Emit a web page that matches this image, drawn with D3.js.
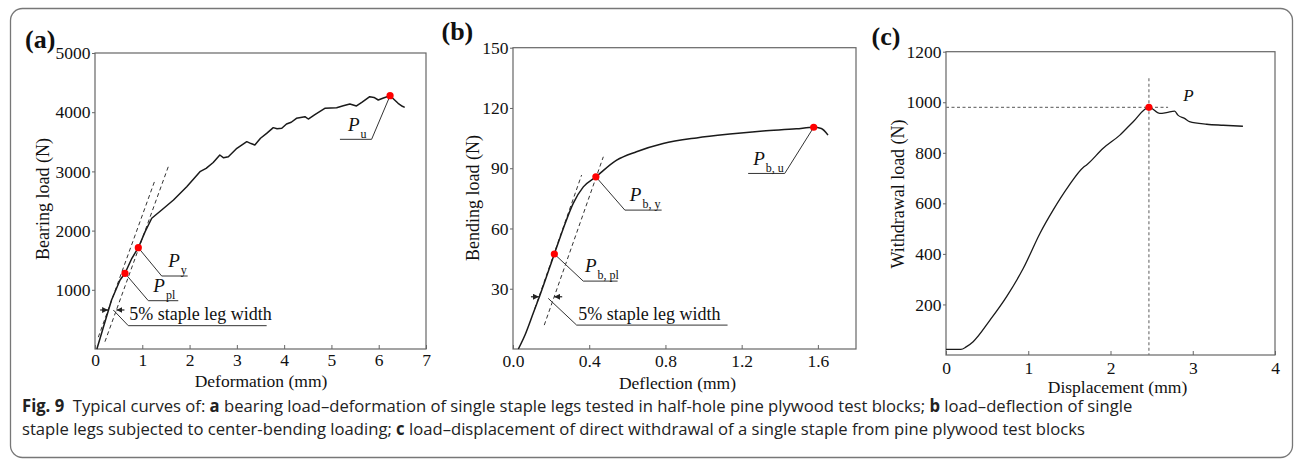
<!DOCTYPE html>
<html><head><meta charset="utf-8">
<script src="https://cdn.jsdelivr.net/npm/d3@7"></script>
<style>body{margin:0;background:#fff}svg{display:block}</style>
</head><body>
<svg id="fig" width="1295" height="461"></svg>
<script>
// ---------- data ----------
const aX = [0.04,0.18,0.35,0.53,0.634,0.78,0.916,1.06,1.2,1.41,1.66,1.94,2.22,2.35,2.5,2.64,2.72,2.82,3.0,3.21,3.3,3.38,3.5,3.63,3.77,3.85,3.95,4.05,4.15,4.26,4.44,4.51,4.65,4.86,5.11,5.25,5.39,5.53,5.65,5.81,5.9,5.99,6.1,6.24,6.41,6.5,6.55];
const aY = [0,377,828,1166,1279,1532,1711,1982,2208,2348,2517,2742,2995,3050,3150,3277,3230,3248,3390,3502,3470,3446,3560,3643,3739,3720,3728,3801,3830,3897,3924,3885,3960,4065,4076,4110,4139,4105,4170,4262,4250,4206,4240,4279,4150,4100,4082];
const aMarkX = [0.634,0.916,6.24];
const aMarkY = [1279,1711,4279];
const aTangent = [[0.07,200],[1.27,2855]];
const aOffset = [[0.21,123],[1.55,3080]];
const aXTicks = [0,1,2,3,4,5,6,7];
const aYTicks = [1000,2000,3000,4000,5000];

const bX = [0.028,0.063,0.106,0.142,0.217,0.264,0.316,0.369,0.435,0.544,0.648,0.788,0.963,1.138,1.312,1.487,1.578,1.618,1.653];
const bY = [0,7,17.8,26.9,47.3,60,72.5,80.7,85.7,94,98.2,102.3,105.1,107,108.5,109.6,110.4,109.8,106.5];
const bMarkX = [0.217,0.435,1.578];
const bMarkY = [47.3,85.7,110.4];
const bTangent = [[0.114,20],[0.36,86.6]];
const bOffset = [[0.164,11.9],[0.474,95.7]];
const bXTicks = [0,0.4,0.8,1.2,1.6];
const bYTicks = [30,60,90,120,150];

const cX = [0,0.18,0.25,0.33,0.535,0.737,0.94,1.142,1.304,1.486,1.668,1.709,1.911,2.114,2.276,2.467,2.6,2.68,2.78,2.82,2.9,2.96,3.17,3.37,3.61];
const cY = [22,22,33,52.6,138,231,343,481,574,666,742,752,818,870,923,980,956,959,965,949,936,923,913,909,905];
const cMarkX = [2.467];
const cMarkY = [980];
const cXTicks = [0,1,2,3,4];
const cYTicks = [200,400,600,800,1000,1200];

const captionLine1 = [["Fig. 9",true],["  Typical curves of: ",false],["a",true],[" bearing load–deformation of single staple legs tested in half-hole pine plywood test blocks; ",false],["b",true],[" load–deflection of single",false]];
const captionLine2 = [["staple legs subjected to center-bending loading; ",false],["c",true],[" load–displacement of direct withdrawal of a single staple from pine plywood test blocks",false]];

// ---------- drawing ----------
const SERIF = '"Liberation Serif","Times New Roman",serif';
const svg = d3.select("#fig");

const defs = svg.append("defs");
defs.append("marker").attr("id","ah").attr("viewBox","0 0 6 6").attr("refX",6).attr("refY",3)
  .attr("markerWidth",6).attr("markerHeight",6).attr("markerUnits","userSpaceOnUse").attr("orient","auto")
  .append("path").attr("d","M0,0L6,3L0,6z").attr("fill","#222");

svg.append("rect").attr("x",10.5).attr("y",8.5).attr("width",1282).attr("height",449).attr("rx",12)
  .attr("fill","none").attr("stroke","#777").attr("stroke-width",1.3);

function panel(cfg){
  const g = svg.append("g");
  const x = d3.scaleLinear().domain(cfg.xd).range([cfg.l,cfg.r]);
  const y = d3.scaleLinear().domain(cfg.yd).range([cfg.b,cfg.t]);
  g.append("rect").attr("x",cfg.l).attr("y",cfg.t).attr("width",cfg.r-cfg.l).attr("height",cfg.b-cfg.t)
    .attr("fill","none").attr("stroke","#666").attr("stroke-width",1.2);
  const xa = g.append("g").attr("transform",`translate(0,${cfg.b})`)
    .call(d3.axisBottom(x).tickValues(cfg.xt).tickSizeInner(-4).tickSizeOuter(0).tickPadding(cfg.xpad).tickFormat(cfg.xf));
  const ya = g.append("g").attr("transform",`translate(${cfg.l},0)`)
    .call(d3.axisLeft(y).tickValues(cfg.yt).tickSizeInner(3).tickSizeOuter(0).tickPadding(1.5).tickFormat(d3.format("d")));
  [xa,ya].forEach(a=>{
    a.select(".domain").remove();
    a.selectAll("line").attr("stroke","#666");
    a.selectAll("text").attr("font-family",SERIF).attr("font-size",17.5).attr("fill","#111");
  });
  g.append("text").attr("x",cfg.xlx).attr("y",cfg.xly).attr("text-anchor","middle")
    .attr("font-family",SERIF).attr("font-size",17.5).attr("fill","#111").text(cfg.xlabel);
  g.append("text").attr("transform",`translate(${cfg.ylx},${cfg.yly}) rotate(-90)`).attr("text-anchor","middle")
    .attr("font-family",SERIF).attr("font-size",18).attr("fill","#111").text(cfg.ylabel);
  g.append("text").attr("x",cfg.plx).attr("y",cfg.ply).attr("font-family",SERIF).attr("font-weight","bold")
    .attr("font-size",26).attr("fill","#111").text(cfg.tag);
  return {g,x,y};
}

function curve(p, xs, ys, w, c){
  const pts = xs.map((d,i)=>[d,ys[i]]);
  p.g.append("path").attr("d",d3.line().x(d=>p.x(d[0])).y(d=>p.y(d[1])).curve(c)(pts))
    .attr("fill","none").attr("stroke","#1a1a1a").attr("stroke-width",w).attr("stroke-linejoin","round");
}
function dashed(p, seg){
  p.g.append("line").attr("x1",p.x(seg[0][0])).attr("y1",p.y(seg[0][1]))
    .attr("x2",p.x(seg[1][0])).attr("y2",p.y(seg[1][1]))
    .attr("stroke","#333").attr("stroke-width",1).attr("stroke-dasharray","4,3");
}
function marks(p, xs, ys){
  xs.forEach((d,i)=>p.g.append("circle").attr("cx",p.x(d)).attr("cy",p.y(ys[i])).attr("r",3.6).attr("fill","#ff0000"));
}
function lineX(seg, yv){
  const [a,b]=seg; return a[0]+(yv-a[1])*(b[0]-a[0])/(b[1]-a[1]);
}
function leader(p, pts, sub, dir, lx, ly){
  p.g.append("polyline").attr("points",pts.map(d=>[p.x(d[0]),p.y(d[1])].join(",")).join(" "))
    .attr("fill","none").attr("stroke","#333").attr("stroke-width",1);
  const ex = dir>0 ? p.x(pts[1][0]) : p.x(pts[2][0]);
  const ey = p.y(pts[1][1]);
  const t = p.g.append("text").attr("x",ex+lx).attr("y",ey+ly).attr("font-family",SERIF).attr("fill","#111");
  t.append("tspan").attr("font-style","italic").attr("font-size",19).text("P");
  t.append("tspan").attr("font-size",12).attr("dx",1).attr("dy",7).text(sub);
}
function staple(p, tan, off, yv, lead, tx, ty){
  const xl = p.x(lineX(tan,yv)), xr = p.x(lineX(off,yv)), yy = p.y(yv);
  p.g.append("line").attr("x1",xl-8).attr("y1",yy).attr("x2",xl).attr("y2",yy).attr("stroke","#222").attr("stroke-width",1.2).attr("marker-end","url(#ah)");
  p.g.append("line").attr("x1",xr+8).attr("y1",yy).attr("x2",xr).attr("y2",yy).attr("stroke","#222").attr("stroke-width",1.2).attr("marker-end","url(#ah)");
  p.g.append("polyline").attr("points",lead.map(d=>[p.x(d[0]),p.y(d[1])].join(",")).join(" "))
    .attr("fill","none").attr("stroke","#333").attr("stroke-width",1);
  p.g.append("text").attr("x",p.x(lead[1][0])+tx).attr("y",p.y(lead[1][1])+ty).attr("font-family",SERIF)
    .attr("font-size",18).attr("fill","#111").text("5% staple leg width");
}

// panel (a)
const pa = panel({l:95,r:426,t:53,b:349,xd:[0,7],yd:[0,5000],xt:aXTicks,yt:aYTicks,xpad:4.5,xf:d3.format("d"),
  xlabel:"Deformation (mm)",xlx:261,xly:386.5,ylabel:"Bearing load (N)",ylx:49,yly:199,tag:"(a)",plx:25,ply:48});
dashed(pa,aTangent); dashed(pa,aOffset);
curve(pa,aX,aY,1.5,d3.curveLinear);
staple(pa,aTangent,aOffset,659,[[0.387,659],[0.704,394],[3.63,394]],1,-6);
leader(pa,[[aMarkX[0],aMarkY[0]],[1.127,816],[1.761,816]],"pl",1,5,-9);
leader(pa,[[aMarkX[1],aMarkY[1]],[1.41,1233],[1.96,1233]],"y",1,6.5,-9.5);
leader(pa,[[aMarkX[2],aMarkY[2]],[5.85,3542],[5.18,3542]],"u",-1,8,-8.5);
marks(pa,aMarkX,aMarkY);

// panel (b)
const pb = panel({l:513,r:856,t:47.7,b:349,xd:[0,1.8],yd:[0,150],xt:bXTicks,yt:bYTicks,xpad:5.5,xf:d3.format(".1f"),
  xlabel:"Deflection (mm)",xlx:677.5,xly:388.5,ylabel:"Bending load (N)",ylx:479,yly:198,tag:"(b)",plx:441.5,ply:40});
dashed(pb,bTangent); dashed(pb,bOffset);
curve(pb,bX,bY,1.5,d3.curveMonotoneX);
staple(pb,bTangent,bOffset,26,[[0.185,25.2],[0.334,11.9],[1.126,11.9]],1.5,-5);
leader(pb,[[bMarkX[0],bMarkY[0]],[0.3686,33.8],[0.549,33.8]],"b, pl",1,1.7,-9.3);
leader(pb,[[bMarkX[1],bMarkY[1]],[0.587,69.15],[0.78,69.15]],"b, y",1,5,-9.3);
leader(pb,[[bMarkX[2],bMarkY[2]],[1.426,87.4],[1.234,87.4]],"b, u",-1,5,-8.3);
marks(pb,bMarkX,bMarkY);

// panel (c)
const pc = panel({l:946,r:1275,t:51.7,b:355,xd:[0,4],yd:[0,1200],xt:cXTicks,yt:cYTicks,xpad:6.5,xf:d3.format("d"),
  xlabel:"Displacement (mm)",xlx:1117.5,xly:392.5,ylabel:"Withdrawal load (N)",ylx:904,yly:194,tag:"(c)",plx:871.5,ply:45});
pc.g.append("line").attr("x1",pc.x(0)).attr("x2",pc.x(2.7)).attr("y1",pc.y(cMarkY[0])).attr("y2",pc.y(cMarkY[0]))
  .attr("stroke","#777").attr("stroke-width",1.2).attr("stroke-dasharray","3,2.5");
pc.g.append("line").attr("x1",pc.x(cMarkX[0])).attr("x2",pc.x(cMarkX[0])).attr("y1",pc.y(1095)).attr("y2",pc.y(0))
  .attr("stroke","#777").attr("stroke-width",1.2).attr("stroke-dasharray","3,2.5");
curve(pc,cX,cY,1.3,d3.curveMonotoneX);
pc.g.append("text").attr("x",pc.x(2.883)).attr("y",pc.y(1005)).attr("font-family",SERIF).attr("font-style","italic")
  .attr("font-size",17).attr("fill","#111").text("P");
marks(pc,cMarkX,cMarkY);

// caption
const cap = svg.append("g");
function capLine(parts, yb){
  const t = cap.append("text").attr("x",0).attr("y",yb).attr("font-family",'"Open Sans","Noto Sans",sans-serif')
    .attr("font-size",17).attr("fill","#222").style("white-space","pre");
  parts.forEach(([s,b])=>t.append("tspan").attr("font-weight",b?"bold":"normal").text(s));
  return t;
}
const l1 = capLine(captionLine1, 0);
capLine(captionLine2, 23.5);
const w1 = l1.node().getComputedTextLength();
const sx = (1133-22)/w1;
cap.attr("transform",`translate(22,412) scale(${sx},1)`);
</script>
</body></html>
